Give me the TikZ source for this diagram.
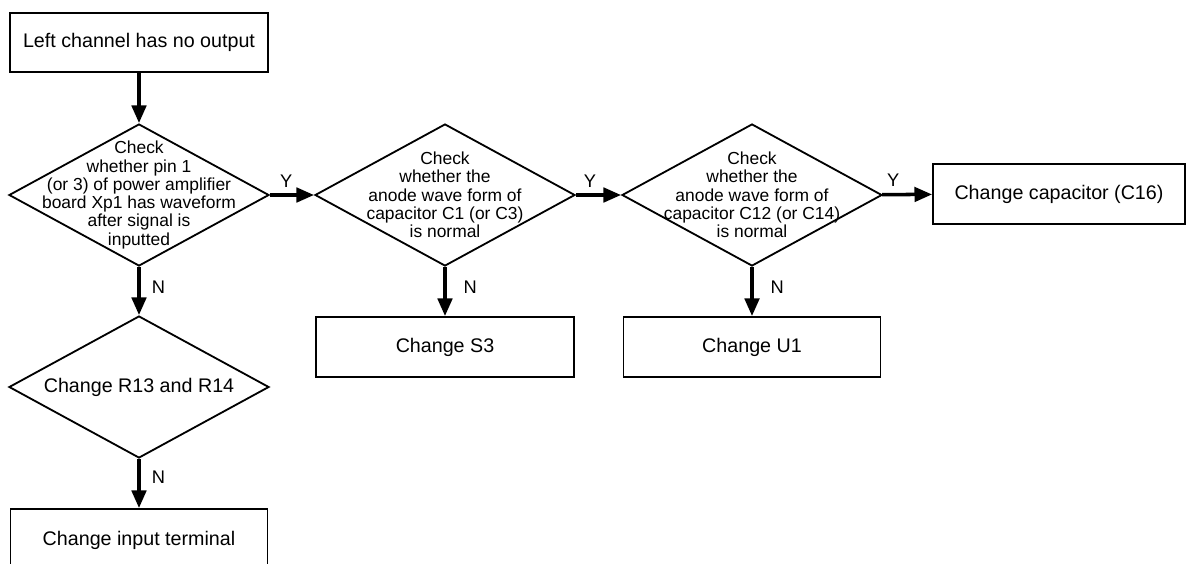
\documentclass[tikz,border=0pt]{standalone}
\usepackage{fontspec}
\setmainfont{Liberation Sans}
\usetikzlibrary{shapes.geometric,arrows.meta}

\begin{document}
\begin{tikzpicture}[
    box/.style={rectangle, draw, line width=1.3pt, minimum width=6.45cm, minimum height=1.5cm, font=\fontsize{14}{16}\selectfont},
    decision/.style={diamond, draw, line width=1.3pt, minimum width=6.5cm, minimum height=3.55cm, inner sep=0pt},
    dtext/.style={align=center, inner sep=0pt, font=\fontsize{12.4}{13}\selectfont},
    yn/.style={inner sep=0pt, font=\fontsize{13}{14}\selectfont},
    flow/.style={line width=2.5pt, -{Triangle[length=0.44cm, width=0.36cm]}}
]
\useasboundingbox (0,0) rectangle (29.675,-14.075);
\clip (0,0) rectangle (29.675,-14.075);

\node[box, minimum height=1.475cm] (start) at (3.475,-1.06) {Left channel has no output};
\node[decision, label={[dtext]center:{Check\\whether pin 1\\(or 3) of power amplifier\\board Xp1 has waveform\\after signal is\\inputted}}] (pin) at (3.475,-4.875) {};
\node[decision, label={[dtext]center:{Check\\whether the\\anode wave form of\\capacitor C1 (or C3)\\is normal}}] (cap1) at (11.125,-4.875) {};
\node[decision, label={[dtext]center:{Check\\whether the\\anode wave form of\\capacitor C12 (or C14)\\is normal}}] (cap12) at (18.8,-4.875) {};
\node[box, minimum width=6.3cm] (c16) at (26.475,-4.85) {Change capacitor (C16)};
\node[box] (s3) at (11.125,-8.675) {Change S3};
\node[box, minimum width=6.425cm] (u1) at (18.8,-8.675) {Change U1};
\node[decision] (res) at (3.475,-9.675) {};
\node[dtext, font=\fontsize{14}{16}\selectfont] at (res) {Change R13 and R14};
\node[box, minimum width=6.425cm, minimum height=1.55cm] (term) at (3.475,-13.5) {Change input terminal};

\draw[flow] (start) -- (pin);
\draw[flow] (pin) -- node[yn, above=0.15cm, pos=0.37] {Y} (cap1);
\draw[flow] (cap1) -- node[yn, above=0.15cm, pos=0.31] {Y} (cap12);
\draw[flow] (cap12) -- node[yn, above=0.15cm, pos=0.22] {Y} (c16);
\draw[flow] (pin) -- node[yn, right=0.28cm, pos=0.42] {N} (res);
\draw[flow] (cap1) -- node[yn, right=0.42cm, pos=0.42] {N} (s3);
\draw[flow] (cap12) -- node[yn, right=0.42cm, pos=0.42] {N} (u1);
\draw[flow] (res) -- node[yn, right=0.28cm, pos=0.37] {N} (term);
\end{tikzpicture}
\end{document}
